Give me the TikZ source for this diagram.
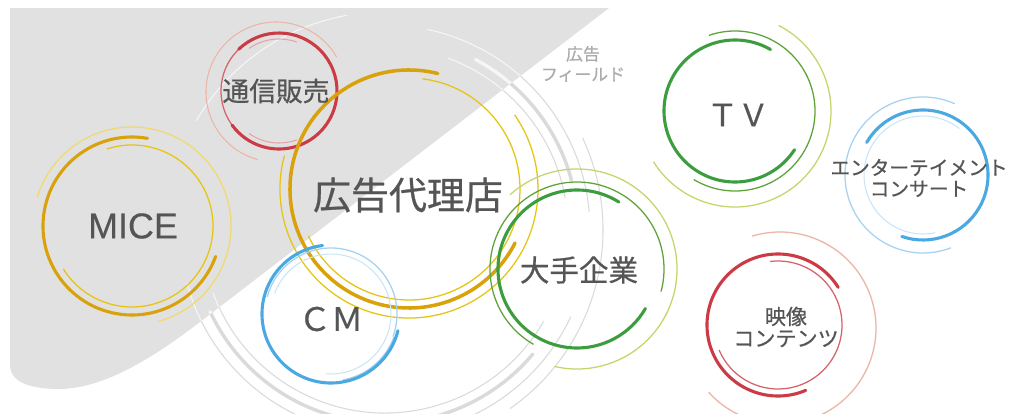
\documentclass[tikz,border=0pt]{standalone}
\usepackage{fontspec}
\newfontfamily\jp{Noto Sans CJK JP}[FakeBold=0.6]
\newfontfamily\lat{Liberation Sans}[FakeBold=0.4]
\definecolor{bgray}{HTML}{E1E1E1}
\definecolor{fgray}{HTML}{DADADA}
\definecolor{txt}{HTML}{555555}
\definecolor{gold}{HTML}{D9A20B}
\definecolor{yel}{HTML}{E6C412}
\definecolor{pyel}{HTML}{F0DA70}
\definecolor{red1}{HTML}{CC3B45}
\definecolor{red2}{HTML}{D6646A}
\definecolor{salm}{HTML}{EBB5A5}
\definecolor{grn1}{HTML}{3C9D3F}
\definecolor{grn2}{HTML}{5EA33A}
\definecolor{ygrn}{HTML}{C3D66A}
\definecolor{blu1}{HTML}{4BA9E2}
\definecolor{blu2}{HTML}{A6D2F1}
\definecolor{blu3}{HTML}{CBE4F6}
\newcommand\rarc[5]{\draw[#1] (#2) ++(#4:#3) arc[start angle=#4,end angle=#5,radius=#3];}
\tikzset{
  thickL/.style={line width=2.2pt,line cap=round},
  midL/.style={line width=0.9pt},
  thinL/.style={line width=0.75pt},
  lbl/.style={text=txt,align=center,inner sep=0pt},
}
\newcommand\fieldarcs[1]{%
  \rarc{#1,thinL}{cFd}{183}{200}{330}
  \rarc{#1,thinL}{cFd}{183}{10}{70}
  \rarc{#1,thickL,line width=2.4pt}{cFd}{193}{205}{320}
  \rarc{#1,thickL,line width=2.4pt}{cFd}{193}{15}{62}
  \rarc{#1,thinL}{cFd}{205}{195}{335}
  \rarc{#1,thinL}{cFd}{205}{5}{78}
  \rarc{#1,thinL}{cFd}{218}{25}{-55}
  \rarc{#1,thinL}{cFd}{218}{100}{150}
}
\begin{document}
\begin{tikzpicture}[x=0.025cm,y=0.025cm]
\useasboundingbox (0,0) rectangle (1013,-414);
\fill[white] (0,0) rectangle (1013,-414);
\coordinate (cTs) at (279,-91);
\coordinate (cTsO) at (276,-92);
\coordinate (cDa) at (409,-189);
\coordinate (cMi) at (132,-226);
\coordinate (cCm) at (331,-314);
\coordinate (cTv) at (735,-111);
\coordinate (cEn) at (923,-175);
\coordinate (cEi) at (778,-325);
\coordinate (cEiO) at (780,-328);
\coordinate (cOt) at (577,-269);
\coordinate (cFd) at (385,-230);
% field arcs (gray on white)
\fieldarcs{fgray}
% gray background region with white arcs
\begin{scope}
\clip (10,-8) -- (609,-8) -- (200,-322) .. controls (140,-368) and (95,-390) .. (55,-389) .. controls (25,-388) and (10,-380) .. (10,-365) -- cycle;
\fill[bgray] (0,0) rectangle (1013,-414);
\fieldarcs{white!70!bgray}
\end{scope}
% 通信販売
\draw[red2,midL] (cTs) circle[radius=58];
\rarc{red1,thickL}{cTs}{58}{134}{-144}
\rarc{red2!60!white,thinL}{cTs}{52}{125}{70}
\rarc{red2!60!white,thinL}{cTs}{52}{235}{290}
\rarc{salm,thinL}{cTsO}{70}{30}{255}
% MICE
\rarc{pyel,midL}{cMi}{99}{163}{-75}
\rarc{yel,midL}{cMi}{81}{108}{-148}
\rarc{gold,thickL}{cMi}{89}{80}{340}
% 広告代理店
\rarc{yel,midL}{cDa}{111}{83}{-155}
\rarc{yel,midL}{cDa}{129}{165}{395}
\rarc{gold,thickL,line width=2.5pt}{cDa}{119}{76}{333}
% CM
\rarc{blu3,thinL}{cCm}{60}{160}{-95}
\rarc{blu2,midL}{cCm}{66}{165}{-20}
\rarc{blu2,midL}{cCm}{67}{-80}{-20}
\rarc{blu1,thickL}{cCm}{69}{97}{346}
% 大手企業
\rarc{ygrn,midL}{cOt}{100}{132}{-103}
\rarc{grn2,midL}{cOt}{87}{240}{-15}
\rarc{grn1,thickL}{cOt}{79}{58}{330}
% TV
\rarc{ygrn,midL}{cTv}{96}{63}{-148}
\rarc{grn2,midL}{cTv}{80}{109}{-121}
\rarc{grn1,thickL}{cTv}{71}{60}{327}
% エンターテイメント
\rarc{blu2,midL}{cEn}{78}{66}{291}
\rarc{blu3,thinL}{cEn}{59}{52}{282}
\rarc{blu1,thickL}{cEn}{65}{150}{-109}
% 映像コンテンツ
\rarc{salm,midL}{cEiO}{96}{107}{-138}
\rarc{red2,midL}{cEi}{64}{97}{-157}
\rarc{red1,thickL}{cEi}{71}{32}{293}
% labels
\node[lbl,font=\jp\fontsize{19}{20}\selectfont] (tTs) at (276,-91) {通信販売};
\node[lbl,font=\jp\fontsize{27}{30}\selectfont] (tDa) at (408,-195) {広告代理店};
\node[lbl,font=\lat\fontsize{25.5}{28}\selectfont] (tMi) at (133,-226) {MICE};
\node[lbl,font=\jp\fontsize{23}{25}\selectfont] (tCm) at (331,-319) {ＣＭ};
\node[lbl,font=\jp\fontsize{22}{24}\selectfont] (tTv) at (738,-115) {ＴＶ};
\node[lbl,font=\jp\fontsize{21}{23}\selectfont] (tOt) at (579,-270) {大手企業};
\node[lbl,font=\jp\fontsize{14}{15}\selectfont] (tEn) at (919,-178) {エンターテイメント\\コンサート};
\node[lbl,font=\jp\fontsize{15}{15.5}\selectfont] (tEi) at (786,-327) {映像\\コンテンツ};
\node[lbl,text=black!33,font=\jp\fontsize{12}{14.5}\selectfont] (tFd) at (583,-64) {広告\\フィールド};
\end{tikzpicture}
\end{document}
